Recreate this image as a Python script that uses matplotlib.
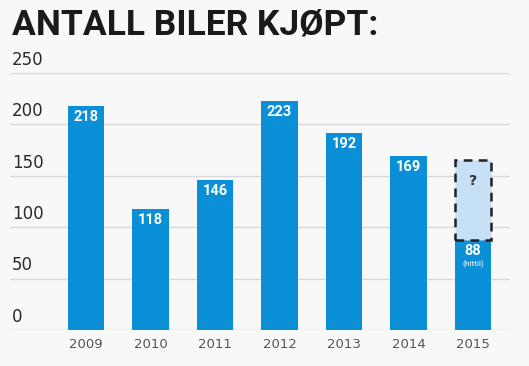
import matplotlib
matplotlib.use("Agg")
import matplotlib.pyplot as plt
from matplotlib import font_manager

years = ["2009", "2010", "2011", "2012", "2013", "2014", "2015"]
values = [218, 118, 146, 223, 192, 169, 88]
projected_top = 165
yticks = [0, 50, 100, 150, 200, 250]
title = "ANTALL BILER KJØPT:"
note = "(hittil)"

bar_color = "#0b8fd6"
light_color = "#c6e0f5"
bg = "#f8f8f8"

names = {f.name for f in font_manager.fontManager.ttflist}
narrow = "Liberation Sans Narrow" if "Liberation Sans Narrow" in names else "Roboto"

fig = plt.figure(figsize=(5.29, 3.66), dpi=100, facecolor=bg)
ax = fig.add_axes([10/529, (366-330)/366, 500/529, (330-73)/366], facecolor=bg)

x = list(range(len(years)))
ax.bar(x, values, width=0.56, color=bar_color, zorder=3)
# projected dashed box for 2015
ax.bar(x[-1], projected_top - values[-1], bottom=values[-1], width=0.56,
       color=light_color, edgecolor="#222222", linestyle=(0, (3.5, 2.5)),
       linewidth=1.8, zorder=3)

for xi, v in zip(x, values):
    ax.text(xi, v - 4, str(v), ha="center", va="top", color="white",
            fontsize=10.5, fontweight="bold", family=narrow, zorder=4)
ax.text(x[-1], values[-1] - 20, note, ha="center", va="top", color="white",
        fontsize=6, family=narrow, zorder=4)
ax.text(x[-1], 145, "?", ha="center", va="center", color="#333333",
        fontsize=10, fontweight="bold", zorder=4)

ax.set_xlim(-1.178, 6.574)
ax.set_ylim(0, 250)
ax.set_yticks(yticks)
ax.yaxis.grid(True, color="#d9d9d9", linewidth=1.0, zorder=0)
ax.set_yticklabels([])
ax.tick_params(axis="y", length=0)
for t in yticks:
    ax.text(0.004, t + 4, str(t), transform=ax.get_yaxis_transform(),
            ha="left", va="bottom", fontsize=12, color="#2a2a2a", zorder=5)

ax.set_xticks(x)
ax.set_xticklabels(years, fontsize=9.5, color="#555555")
ax.tick_params(axis="x", length=0, pad=6)
for s in ax.spines.values():
    s.set_visible(False)

fig.text(12/529, 1 - 9/366, title, ha="left", va="top", fontsize=25.5,
         fontweight="bold", color="#1a1a1a", family=narrow)

fig.savefig("out.png", dpi=100, facecolor=bg)
